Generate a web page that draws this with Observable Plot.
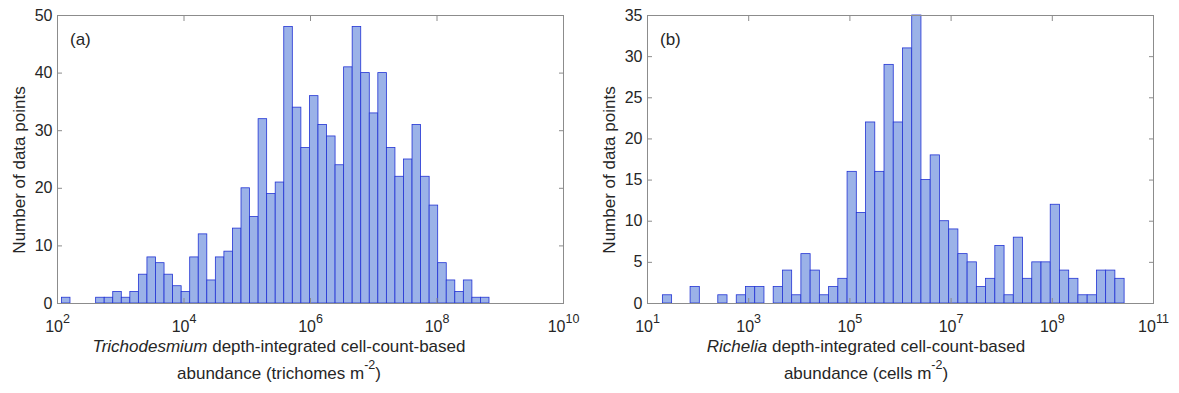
<!DOCTYPE html>
<html>
<head>
<meta charset="utf-8">
<script src="https://cdn.jsdelivr.net/npm/d3@7"></script>
<script src="https://cdn.jsdelivr.net/npm/@observablehq/plot@0.6"></script>
<style>
  html, body { margin: 0; padding: 0; background: white; }
  #wrap { position: relative; width: 1179px; height: 393px; overflow: hidden; background: white; }
  #pa { position: absolute; left: 0; top: 0; }
  #pb { position: absolute; left: 590px; top: 0; }
</style>
</head>
<body>
<div id="wrap"><div id="pa"></div><div id="pb"></div></div>
<script>
// ---------- data ----------
// Panel (a): Trichodesmium, 50 log-spaced bins
const binStartA = 2.07;      // log10 of first bin's left edge
const binWidthA = 0.1352;    // bin width in decades
const countsA = [1,0,0,0,1,1,2,1,2,5, 8,7,5,3,2,8,12,4,8,9, 13,20,15,32,19,21,48,34,27,36,
                 31,29,24,41,48,40,33,40,27,22, 25,31,22,17,7,4,2,4,1,1];
const xTicksA = [1e2, 1e4, 1e6, 1e8, 1e10];
const yTicksA = [0, 10, 20, 30, 40, 50];

// Panel (b): Richelia, 50 log-spaced bins
const binStartB = 1.304;
const binWidthB = 0.1825;
const countsB = [1,0,0,2,0,0,1,0,1,2, 2,0,2,4,1,6,4,1,2,3, 16,11,22,16,29,22,31,35,15,18,
                 10,9,6,5,2,3,7,1,8,3, 5,5,12,4,3,1,1,4,4,3];
const xTicksB = [1e1, 1e3, 1e5, 1e7, 1e9, 1e11];
const yTicksB = [0, 5, 10, 15, 20, 25, 30, 35];

const yLabel = "Number of data points";
const xLabelA = {italic: "Trichodesmium", rest: " depth-integrated cell-count-based", line2: "abundance (trichomes m", unit: ")"};
const xLabelB = {italic: "Richelia", rest: " depth-integrated cell-count-based", line2: "abundance (cells m", unit: ")"};

// ---------- drawing ----------
const FILL = "#9bb2e8", EDGE = "#2233d4", AXIS = "#8c8c8c", TEXT = "#262626";
const FONT = "'Liberation Sans', Arial, Helvetica, sans-serif";

function panel({counts, start, w, xDomain, xTicks, yDomain, yTicks, width, marginRight, tag, xl, xlCenter}) {
  const bins = counts.map((c, i) => ({x1: 10 ** (start + i * w), x2: 10 ** (start + (i + 1) * w), c}));
  const chart = Plot.plot({
    width, height: 393,
    marginLeft: 57, marginRight, marginTop: 15, marginBottom: 90,
    style: {fontFamily: FONT, fontSize: "16px", color: TEXT, background: "white", overflow: "visible"},
    x: {type: "log", domain: xDomain},
    y: {domain: yDomain},
    marks: [
      Plot.rectY(bins, {x1: "x1", x2: "x2", y: "c", fill: FILL, stroke: EDGE, strokeWidth: 0.8}),
      Plot.ruleY([0], {x1: bins[0].x1, x2: bins[bins.length - 1].x2, stroke: EDGE, strokeWidth: 1}),
      Plot.frame({stroke: AXIS}),
      Plot.axisX({ticks: xTicks, tickSize: 0, tickPadding: 17, label: null,
                  tickFormat: d => "10^" + Math.round(Math.log10(d))}),
      Plot.axisX({ticks: xTicks, tickSize: -5, tickFormat: () => "", label: null, stroke: AXIS}),
      Plot.axisX({anchor: "top", ticks: xTicks, tickSize: -5, tickFormat: () => "", label: null, stroke: AXIS}),
      Plot.axisY({ticks: yTicks, tickSize: 0, tickPadding: 5, label: null}),
      Plot.axisY({ticks: yTicks, tickSize: -5, tickFormat: () => "", label: null, stroke: AXIS}),
      Plot.axisY({anchor: "right", ticks: yTicks, tickSize: -5, tickFormat: () => "", label: null, stroke: AXIS})
    ]
  });
  const svg = d3.select(chart);
  // superscript exponents on x tick labels
  svg.selectAll('g[aria-label="x-axis tick label"] text').each(function () {
    const t = d3.select(this);
    const s = t.text();
    const m = s.match(/^10\^(-?\d+)$/);
    if (!m) return;
    t.text("");
    t.append("tspan").text("10");
    t.append("tspan").attr("dy", -9).attr("font-size", 12.5).text(m[1]);
  });
  // y label
  svg.append("text")
    .attr("transform", "translate(25,170) rotate(-90)")
    .attr("text-anchor", "middle").attr("font-size", 17).attr("fill", TEXT)
    .attr("font-family", FONT)
    .text(yLabel);
  // x label, two lines
  const l1 = svg.append("text").attr("x", xlCenter).attr("y", 352)
    .attr("text-anchor", "middle").attr("font-size", 17).attr("fill", TEXT).attr("font-family", FONT);
  l1.append("tspan").attr("font-style", "italic").text(xl.italic);
  l1.append("tspan").text(xl.rest);
  const l2 = svg.append("text").attr("x", xlCenter).attr("y", 378.5)
    .attr("text-anchor", "middle").attr("font-size", 17).attr("fill", TEXT).attr("font-family", FONT);
  l2.append("tspan").text(xl.line2);
  l2.append("tspan").attr("dy", -10).attr("font-size", 12.5).text("-2");
  l2.append("tspan").attr("dy", 10).text(xl.unit);
  // panel tag
  svg.append("text").attr("x", 70).attr("y", 44.5)
    .attr("text-anchor", "start")
    .attr("font-size", 17).attr("fill", TEXT).attr("font-family", FONT)
    .text(tag);
  return chart;
}

document.getElementById("pa").appendChild(panel({
  counts: countsA, start: binStartA, w: binWidthA,
  xDomain: [1e2, 1e10], xTicks: xTicksA, yDomain: [0, 50], yTicks: yTicksA,
  width: 590, marginRight: 27, tag: "(a)", xl: xLabelA, xlCenter: 279
}));
document.getElementById("pb").appendChild(panel({
  counts: countsB, start: binStartB, w: binWidthB,
  xDomain: [1e1, 1e11], xTicks: xTicksB, yDomain: [0, 35], yTicks: yTicksB,
  width: 589, marginRight: 26, tag: "(b)", xl: xLabelB, xlCenter: 276
}));
</script>
</body>
</html>
